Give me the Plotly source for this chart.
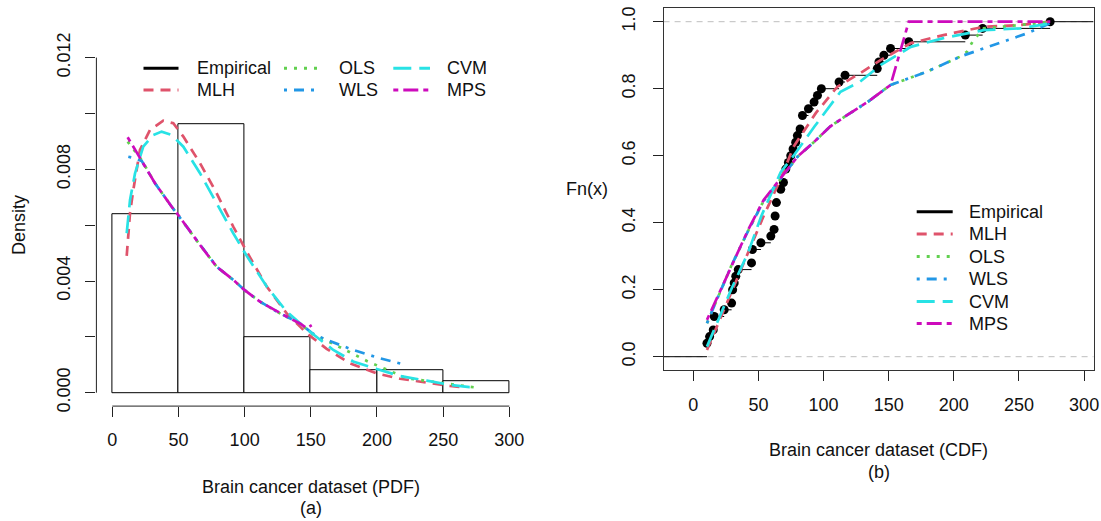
import numpy as np
import plotly.graph_objects as go

W, H = 1101, 521
FONT = "Liberation Sans, Arial, sans-serif"

# ---------------- data ----------------
brain_data = [10.5, 10.5, 12.5, 15.3, 16.1, 16.1, 23.7, 29.4, 30.2, 30.2,
              31.4, 32.6, 34.5, 44.7, 45.4, 45.4, 51.9, 59.5, 62.0, 62.8,
              62.8, 63.8, 63.8, 67.1, 67.1, 69.2, 71.0, 71.0, 73.0, 74.8,
              76.6, 78.6, 79.9, 82.0, 83.8, 83.8, 88.4, 92.7, 95.3, 98.3,
              111.9, 116.5, 141.2, 142.5, 146.3, 151.4, 165.4, 208.8, 222.1, 273.9]

# fitted PDFs (panel a)
pdf_mlh_x = [10.9, 13.4, 15.9, 20.9, 28.5, 38.5, 46.1, 53.7, 66.3, 78.9, 91.4, 101.6,
             116.7, 131.8, 146.9, 162.0, 179.6, 199.8, 217.4, 237.6, 255.2, 265.3]
pdf_mlh_y = [0.0049, 0.00643, 0.00726, 0.00869, 0.00941, 0.00974, 0.00965, 0.00917,
             0.00822, 0.00714, 0.00595, 0.00505, 0.0038, 0.00284, 0.00213, 0.00157,
             0.00105, 0.00069, 0.0005, 0.00035, 0.00024, 0.00019]
pdf_ols_x = [11.6, 22.2, 32.3, 44.9, 66.3, 78.9, 91.4, 99.8, 111.6, 126.7, 141.8,
             151.4, 172.0, 186.0, 193.0, 208.8, 222.1, 273.9]
pdf_ols_y = [0.00899, 0.00833, 0.0075, 0.00666, 0.00529, 0.00451, 0.00404, 0.00368,
             0.00326, 0.00284, 0.00248, 0.0021, 0.00163, 0.00131, 0.00112, 0.0008,
             0.00052, 0.00019]
pdf_wls_x = [12.1, 17.0, 22.2, 32.3, 44.9, 66.3, 78.9, 91.4, 99.8, 111.6, 126.7,
             141.8, 151.4, 162.0, 182.1, 202.3, 222.1]
pdf_wls_y = [0.00845, 0.0084, 0.0083, 0.0075, 0.00666, 0.00529, 0.00451, 0.00404,
             0.00368, 0.00326, 0.00284, 0.00248, 0.00212, 0.00189, 0.00153, 0.00123,
             0.00099]
pdf_cvm_x = [10.9, 13.4, 17.2, 23.4, 31.0, 37.3, 44.9, 53.7, 66.3, 78.9, 91.4, 101.6,
             116.7, 131.8, 149.4, 167.0, 182.0, 199.8, 217.4, 237.6, 255.2, 270.0, 275.4]
pdf_cvm_y = [0.00571, 0.0069, 0.00786, 0.00881, 0.00923, 0.00935, 0.00923, 0.00881,
             0.00786, 0.00678, 0.00571, 0.0049, 0.0038, 0.0029, 0.00218, 0.00153,
             0.00112, 0.00085, 0.0006, 0.00043, 0.00028, 0.0002, 0.00019]
pdf_mps_x = [11.6, 22.2, 32.3, 44.9, 49.9, 66.3, 78.9, 91.4, 99.8, 111.6, 126.7,
             134.2, 141.8, 146.9, 150.7]
pdf_mps_y = [0.00915, 0.00833, 0.0075, 0.00666, 0.00636, 0.00529, 0.00451, 0.00404,
             0.00368, 0.00326, 0.00284, 0.00266, 0.00248, 0.00231, 0.00242]

# fitted CDFs (panel b)
cdf_mlh_x = [10.5, 20, 29, 42, 54, 67, 77, 94, 110.6, 128, 144, 167, 192, 223, 251, 274]
cdf_mlh_y = [0.02, 0.11, 0.19, 0.31, 0.42, 0.53, 0.627, 0.727, 0.806, 0.846, 0.886,
             0.936, 0.96, 0.985, 0.99, 1.0]
cdf_ols_x = [10.5, 20, 29, 42, 54, 67, 80, 93, 105, 118, 134, 151.4, 179.5, 205,
             210, 215, 223, 251, 274]
cdf_ols_y = [0.10, 0.19, 0.27, 0.375, 0.465, 0.53, 0.597, 0.642, 0.687, 0.721, 0.761,
             0.811, 0.851, 0.896, 0.91, 0.945, 0.98, 0.99, 1.0]
cdf_wls_x = [10.5, 20, 29, 42, 54, 67, 80, 93, 105, 118, 134, 151.4, 179.5, 205,
             230.5, 256, 274]
cdf_wls_y = [0.10, 0.19, 0.27, 0.375, 0.465, 0.53, 0.597, 0.642, 0.687, 0.721, 0.761,
             0.811, 0.851, 0.896, 0.93, 0.965, 0.995]
cdf_cvm_x = [10.5, 20, 29, 42, 52, 67, 77, 93, 113, 128, 144, 167, 192, 223, 251, 274]
cdf_cvm_y = [0.03, 0.12, 0.20, 0.31, 0.418, 0.55, 0.60, 0.687, 0.791, 0.821, 0.871,
             0.925, 0.951, 0.975, 0.98, 0.995]
cdf_mps_x = [10.5, 20, 29, 42, 54, 67, 80, 93, 105, 118, 134, 151.4, 165.4, 274]
cdf_mps_y = [0.11, 0.19, 0.27, 0.378, 0.468, 0.532, 0.597, 0.642, 0.687, 0.721,
             0.761, 0.811, 1.0, 1.0]

# ticks
x_tickvals = [0, 50, 100, 150, 200, 250, 300]
x_ticktext = ["0", "50", "100", "150", "200", "250", "300"]
pdf_tickvals = [0, 0.002, 0.004, 0.006, 0.008, 0.010, 0.012]
pdf_ticktext = ["0.000", "", "0.004", "", "0.008", "", "0.012"]
cdf_tickvals = [0, 0.2, 0.4, 0.6, 0.8, 1.0]
cdf_ticktext = ["0.0", "0.2", "0.4", "0.6", "0.8", "1.0"]

legend_labels = ["Empirical", "MLH", "OLS", "WLS", "CVM", "MPS"]

# ---------------- styles ----------------
colors = {"Empirical": "black", "MLH": "#DF536B", "OLS": "#61D04F",
          "WLS": "#2297E6", "CVM": "#28E2E5", "MPS": "#CD0BBC"}
dashes = {"Empirical": "solid", "MLH": "10px,7px", "OLS": "3px,7px",
          "WLS": "3px,7px,10px,7px", "CVM": "18px,8px", "MPS": "5px,5px,15px,5px"}
LW = 2.7

pdf_curves = {"MLH": (pdf_mlh_x, pdf_mlh_y), "OLS": (pdf_ols_x, pdf_ols_y),
              "WLS": (pdf_wls_x, pdf_wls_y), "CVM": (pdf_cvm_x, pdf_cvm_y),
              "MPS": (pdf_mps_x, pdf_mps_y)}
cdf_curves = {"MLH": (cdf_mlh_x, cdf_mlh_y), "OLS": (cdf_ols_x, cdf_ols_y),
              "WLS": (cdf_wls_x, cdf_wls_y), "CVM": (cdf_cvm_x, cdf_cvm_y),
              "MPS": (cdf_mps_x, cdf_mps_y)}

X1_RANGE = [-12, 312]
Y1_RANGE = [-0.00048, 0.01248]
X2_RANGE = [-22.8, 307.2]
Y2_RANGE = [-0.04, 1.04]

def px(x):
    return x / W

def py(y):
    return 1 - y / H

fig = go.Figure()

# ---- panel (a): histogram + densities ----
fig.add_trace(go.Histogram(
    x=brain_data, xbins=dict(start=0, end=300, size=50),
    histnorm="probability density",
    marker=dict(color="white", line=dict(color="black", width=1)),
    xaxis="x", yaxis="y", showlegend=False, name="Empirical"))

for m, (xs, ys) in pdf_curves.items():
    fig.add_trace(go.Scatter(x=xs, y=ys, mode="lines", name=m, showlegend=False,
                             line=dict(color=colors[m], width=LW, dash=dashes[m]),
                             xaxis="x", yaxis="y"))

# ---- panel (b): ECDF + fitted CDFs ----
xu, cnt = np.unique(np.array(brain_data), return_counts=True)
Fn = np.cumsum(cnt) / len(brain_data)
seg_x, seg_y = [X2_RANGE[0], xu[0], None], [0, 0, None]
for i in range(len(xu) - 1):
    seg_x += [xu[i], xu[i + 1], None]
    seg_y += [Fn[i], Fn[i], None]
seg_x += [xu[-1], X2_RANGE[1]]
seg_y += [1, 1]
fig.add_trace(go.Scatter(x=seg_x, y=seg_y, mode="lines", showlegend=False,
                         line=dict(color="black", width=1), xaxis="x2", yaxis="y2",
                         name="Empirical"))
fig.add_trace(go.Scatter(x=xu, y=Fn, mode="markers", showlegend=False,
                         marker=dict(color="black", size=9), xaxis="x2", yaxis="y2",
                         name="Empirical"))
for m, (xs, ys) in cdf_curves.items():
    fig.add_trace(go.Scatter(x=xs, y=ys, mode="lines", name=m, showlegend=False,
                             line=dict(color=colors[m], width=LW, dash=dashes[m]),
                             xaxis="x2", yaxis="y2"))

shapes = []
# gray reference lines at 0 and 1
for h in (0, 1):
    shapes.append(dict(type="line", xref="x2 domain", yref="y2", x0=0, x1=1, y0=h, y1=h,
                       line=dict(color="#BEBEBE", width=1, dash="6px,5px"), layer="below"))
# axis lines of panel (a), spanning tick range only (R style)
shapes.append(dict(type="line", xref="x", yref="y domain", x0=x_tickvals[0], x1=x_tickvals[-1],
                   y0=0, y1=0, line=dict(color="#222", width=1)))
shapes.append(dict(type="line", xref="x domain", yref="y", x0=0, x1=0,
                   y0=pdf_tickvals[0], y1=pdf_tickvals[-1], line=dict(color="#222", width=1)))

annotations = []

def legend_item(x0, x1, y, tx, label):
    shapes.append(dict(type="line", xref="paper", yref="paper", x0=px(x0), x1=px(x1),
                       y0=py(y), y1=py(y),
                       line=dict(color=colors[label], width=3, dash=dashes[label])))
    annotations.append(dict(text=label, xref="paper", yref="paper", x=px(tx), y=py(y),
                            xanchor="left", yanchor="middle", showarrow=False,
                            font=dict(family=FONT, size=18, color="#111")))

# left legend (3 columns x 2 rows)
left_cols = [(143.5, 178.5, 195.0), (284.0, 320.0, 336.7), (393.3, 430.0, 445.0)]
left_rows = [68.3, 90.0]
for k, lab in enumerate(legend_labels):
    c, r = k // 2, k % 2
    legend_item(left_cols[c][0], left_cols[c][1], left_rows[r], left_cols[c][2], lab)

# right legend (single column)
right_rows = [211.7, 234.0, 256.5, 279.0, 301.5, 323.5]
for k, lab in enumerate(legend_labels):
    legend_item(916.7, 952.7, right_rows[k], 967.3, lab)

def text(t, x, y, angle=0):
    annotations.append(dict(text=t, xref="paper", yref="paper", x=px(x), y=py(y),
                            xanchor="center", yanchor="middle", showarrow=False,
                            textangle=angle, font=dict(family=FONT, size=18, color="#111")))

text("Density", 19, 225, -90)
text("Brain cancer dataset (PDF)", 310.8, 486.7)
text("(a)", 310.8, 508)
text("Fn(x)", 587, 189)
text("Brain cancer dataset (CDF)", 878.6, 450)
text("(b)", 878.6, 472)

tickfont = dict(family=FONT, size=18, color="#111")
common = dict(ticks="outside", ticklen=10, tickwidth=1, tickcolor="#222",
              showgrid=False, zeroline=False, tickfont=tickfont, fixedrange=True,
              automargin=False)

fig.update_layout(
    width=W, height=H, autosize=False,
    margin=dict(l=0, r=0, t=0, b=0, pad=0, autoexpand=False),
    paper_bgcolor="white", plot_bgcolor="white", bargap=0, showlegend=False,
    xaxis=dict(domain=[96.4 / W, 525.2 / W], range=X1_RANGE, anchor="y",
               tickvals=x_tickvals, ticktext=x_ticktext, showline=False,
               ticklabelstandoff=7, **common),
    yaxis=dict(domain=[114.9 / H, 476.8 / H], range=Y1_RANGE, anchor="x",
               tickvals=pdf_tickvals, ticktext=pdf_ticktext, tickangle=-90,
               showline=False, ticklabelstandoff=8, **common),
    xaxis2=dict(domain=[663.6 / W, 1093.5 / W], range=X2_RANGE, anchor="y2",
                tickvals=x_tickvals, ticktext=x_ticktext, showline=True, mirror=True,
                linecolor="#333", linewidth=1.2, ticklabelstandoff=8, **common),
    yaxis2=dict(domain=[150.9 / H, 512.7 / H], range=Y2_RANGE, anchor="x2",
                tickvals=cdf_tickvals, ticktext=cdf_ticktext, tickangle=-90,
                showline=True, mirror=True, linecolor="#333", linewidth=1.2,
                ticklabelstandoff=10, **common),
    shapes=shapes, annotations=annotations,
)

# remove the browser's default 8px body margin so the 1101x521 figure fills the window
fig.write_html("out.html", config={"displayModeBar": False},
               post_script="document.body.style.margin='0';document.body.style.overflow='hidden';")
